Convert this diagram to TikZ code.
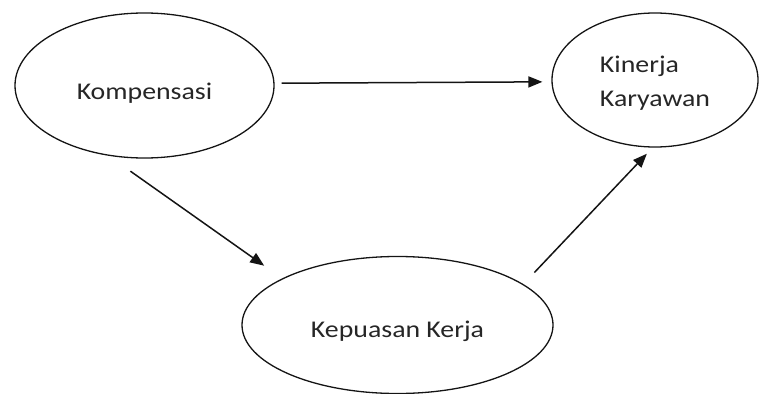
\documentclass[tikz,border=0pt]{standalone}
\usepackage{fontspec}
\setmainfont{Carlito}[FakeStretch=1.16]
\usepackage{xcolor}
\definecolor{ink-900}{RGB}{20,20,20}
\definecolor{text-800}{RGB}{38,38,38}
\usetikzlibrary{shapes.geometric,arrows.meta}

\begin{document}
\begin{tikzpicture}[
    x=1pt, y=-1pt,
    var ellipse/.style={ellipse, draw=ink-900, line width=1.3pt, inner sep=0pt, text=text-800, font=\fontsize{24}{34}\selectfont},
    arrow/.style={-{Triangle[length=14pt,width=11pt]}, line width=1.5pt, ink-900}
]
\useasboundingbox (0,0) rectangle (759,393);

% Variables
\node[var ellipse, minimum width=259pt, minimum height=145pt, text height=27.6pt, text depth=0pt] (komp) at (144.5,85.5) {Kompensasi};
\node[var ellipse, minimum width=206pt, minimum height=134pt, align=left, text height=53.4pt, text depth=0pt] (kin) at (655,80) {Kinerja\\Karyawan};
\node[var ellipse, minimum width=311pt, minimum height=137pt, text height=24pt, text depth=0pt] (kep) at (397.5,325) {Kepuasan Kerja};

% Kompensasi -> Kinerja Karyawan
\draw[arrow, shorten <=7pt, shorten >=9pt] (komp.1.55) -- (kin.181.1);

% Kompensasi -> Kepuasan Kerja
\draw[arrow, shorten <=26.6pt, shorten >=22pt] (komp.243.4) -- (kep.158.9);

% Kepuasan Kerja -> Kinerja Karyawan
\draw[arrow, shorten <=16pt, shorten >=8.4pt] (kep.18.6) -- (kin.268.2);

\end{tikzpicture}
\end{document}
